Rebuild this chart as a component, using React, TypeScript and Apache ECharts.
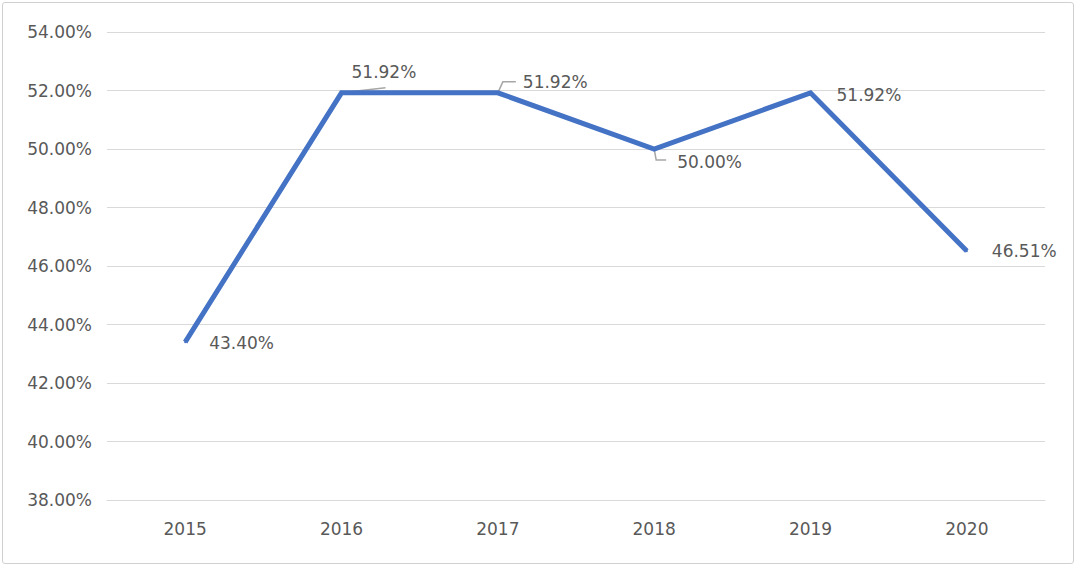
import React, { useEffect, useRef } from "react";
import * as echarts from "echarts";

const years = ["2015", "2016", "2017", "2018", "2019", "2020"];
const rates = [43.4, 51.92, 51.92, 50.0, 51.92, 46.51];
const yTicks = { min: 38, max: 54, interval: 2 };
const labelOffsets: [number, number][] = [
  [23, 1],
  [9, -21],
  [24, -11],
  [22, 13],
  [25, 2],
  [24, 0],
];
// leader line shapes (pixel offsets from the data point)
const leaderIdx = [1, 2, 3];
const leaderShapes: Record<number, [number, number][]> = {
  1: [[0, 0], [44, -5]],
  2: [[0, 0], [5, -11], [18, -11]],
  3: [[0, 0], [2, 11], [12, 11]],
};

export default function App() {
  const ref = useRef<HTMLDivElement>(null);
  useEffect(() => {
    if (!ref.current) return;
    const chart = echarts.init(ref.current, null, { renderer: "svg" });
    const font = "DejaVu Sans";
    chart.setOption({
      animation: false,
      backgroundColor: "#ffffff",
      grid: { left: 107, right: 35, top: 32, bottom: 67 },
      xAxis: {
        type: "category",
        data: years,
        boundaryGap: true,
        axisLine: { show: true, lineStyle: { color: "#d9d9d9" } },
        axisTick: { show: false },
        axisLabel: { color: "#595959", fontSize: 17, fontFamily: font, margin: 20 },
      },
      yAxis: {
        type: "value",
        min: yTicks.min,
        max: yTicks.max,
        interval: yTicks.interval,
        axisLine: { show: false },
        axisTick: { show: false },
        splitLine: { lineStyle: { color: "#d9d9d9", width: 1 } },
        axisLabel: {
          color: "#595959",
          fontSize: 17,
          fontFamily: font,
          margin: 15,
          formatter: (v: number) => v.toFixed(2) + "%",
        },
      },
      series: [
        {
          type: "custom",
          z: 1,
          silent: true,
          data: leaderIdx.map((i) => [i, rates[i]]),
          renderItem: (params: any, api: any) => {
            const idx = api.value(0);
            const p = api.coord([idx, api.value(1)]);
            const shape = leaderShapes[idx];
            return {
              type: "polyline",
              shape: { points: shape.map(([a, b]) => [p[0] + a, p[1] + b]) },
              style: { stroke: "#a6a6a6", lineWidth: 1.5, fill: "none" },
            };
          },
        },
        {
          type: "line",
          z: 2,
          data: rates,
          symbol: "circle",
          symbolSize: 2,
          showSymbol: true,
          itemStyle: { color: "#4472c4" },
          lineStyle: { color: "#4472c4", width: 5, join: "miter" },
          label: {
            show: true,
            position: "right",
            distance: 0,
            color: "#595959",
            fontSize: 17,
            fontFamily: font,
            formatter: (p: any) => p.value.toFixed(2) + "%",
          },
          labelLayout: (params: any) => {
            const o = labelOffsets[params.dataIndex] || [0, 0];
            return { dx: o[0], dy: o[1] };
          },
        },
      ],
    });
    return () => chart.dispose();
  }, []);
  return (
    <div style={{ position: "absolute", left: 0, top: 0, width: 1080, height: 567 }}>
      <div ref={ref} style={{ position: "absolute", left: 0, top: 0, width: 1080, height: 567 }} />
      <div
        style={{
          position: "absolute",
          left: 2,
          top: 2,
          width: 1070,
          height: 560,
          border: "1px solid #d0d0d0",
          borderRadius: 3,
          pointerEvents: "none",
        }}
      />
    </div>
  );
}
